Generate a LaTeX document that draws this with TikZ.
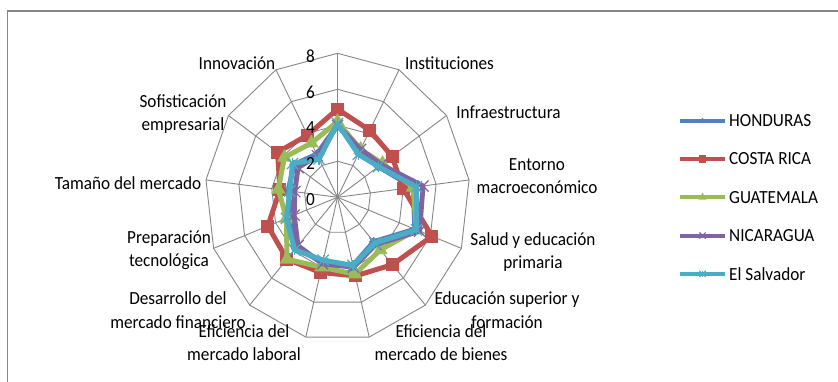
\documentclass[tikz,border=0pt]{standalone}
\usepackage{fontspec}
\setmainfont{Carlito}
\usetikzlibrary{positioning,calc,shapes.geometric,shapes.misc}

\definecolor{honblue}{RGB}{79,129,189}
\definecolor{crred}{RGB}{192,80,77}
\definecolor{guagreen}{RGB}{155,187,89}
\definecolor{nicpurple}{RGB}{128,100,162}
\definecolor{salcyan}{RGB}{75,172,198}
\definecolor{gridgray}{RGB}{134,134,134}

\tikzset{
  frame/.style={draw=gridgray, line width=1.3pt},
  grid line/.style={draw=gridgray, line width=0.9pt},
  cat/.style={align=center, inner sep=0pt, xscale=0.93,
    font=\fontsize{18.5}{23.5}\selectfont},
  hon-line/.style={draw=honblue, line width=5pt, line join=round},
  cr-line/.style={draw=crred, line width=5pt, line join=round},
  gua-line/.style={draw=guagreen, line width=5pt, line join=round},
  nic-line/.style={draw=nicpurple, line width=5pt, line join=round},
  sal-line/.style={draw=salcyan, line width=5pt, line join=round},
  hon-mark/.style={diamond, fill=honblue, inner sep=0pt, minimum size=10pt},
  cr-mark/.style={rectangle, fill=crred, inner sep=0pt, minimum size=13pt},
  gua-mark/.style={regular polygon, regular polygon sides=3, fill=guagreen,
    inner sep=0pt, minimum size=17pt},
  nic-mark/.style={cross out, draw=nicpurple, line width=1.2pt, inner sep=0pt,
    minimum size=10pt},
  sal-mark/.style={cross out, draw=salcyan, line width=1.2pt, inner sep=0pt,
    minimum size=10pt, append after command={(\tikzlastnode.north)
      edge[draw=salcyan, line width=1.2pt] (\tikzlastnode.south)}},
}

% one country: name, 13 values from the top axis, clockwise
\newcommand\radarserie[2]{%
  \foreach \v [count=\k from 0] in {#2}
    \coordinate (#1\k) at ({90-\k*360/13}:{\v*18});
  \draw[#1-line] (#10) \foreach \k in {1,...,12}{ -- (#1\k)} -- cycle;
  \foreach \k in {0,...,12}
    \node[#1-mark] (#1m\k) at (#1\k) {};
}

\begin{document}
\begin{tikzpicture}[x=1pt, y=1pt]
  \useasboundingbox (0,0) rectangle (838,382);
  \draw[frame] (7.5,0) -- (7.5,371) -- (838,371);

  % radar grid and data
  \begin{scope}[shift={(337.5,184.7)}, xscale=0.92]
    \foreach \r in {2,4,6,8}
      \draw[grid line] (90:\r*18)
        \foreach \k in {1,...,12}{ -- ({90-\k*360/13}:\r*18)} -- cycle;
    \foreach \k in {0,...,12}
      \draw[grid line] (0,0) -- ({90-\k*360/13}:144);

    \radarserie{hon}{4.0,2.9,3.0,4.6,5.0,3.3,3.9,3.7,3.8,3.0,3.0,3.2,2.7}
    \radarserie{cr}{4.9,4.2,4.0,4.0,6.1,5.0,4.5,4.3,4.6,4.5,3.5,4.4,3.9}
    \radarserie{gua}{4.2,3.0,3.3,4.6,5.1,3.9,4.4,4.0,4.6,3.3,3.6,3.9,3.4}
    \radarserie{nic}{4.0,3.0,3.2,5.2,5.3,3.5,4.0,3.8,3.6,2.8,2.6,2.9,2.6}
    \radarserie{sal}{4.1,2.7,3.0,4.8,5.1,3.4,3.9,3.6,3.9,3.3,2.9,3.3,2.4}
  \end{scope}

  % value axis
  \foreach \v in {0,2,...,8}
    \node[cat] (tick\v) at (310.5,182+18*\v) {\v};

  % categories
  \node[cat] (inst) at (449.5,318.5) {Instituciones};
  \node[cat] (infra) at (508.5,270) {Infraestructura};
  \node[cat] (entorno) at (537,206) {Entorno\\macroeconómico};
  \node[cat] (salud) at (533,130) {Salud y educación\\primaria};
  \node[cat] (edsup) at (507,72) {Educación superior y\\formación};
  \node[cat] (bienes) at (441,39.5) {Eficiencia del\\mercado de bienes};
  \node[cat] (laboral) at (244,39.5) {Eficiencia del\\mercado laboral};
  \node[cat] (financ) at (178,72) {Desarrollo del\\mercado financiero};
  \node[cat] (tecno) at (169,131.7) {Preparación\\tecnológica};
  \node[cat] (tamano) at (128,199) {Tamaño del mercado};
  \node[cat] (sofis) at (183,267.7) {Sofisticación\\empresarial};
  \node[cat] (innov) at (237,318.5) {Innovación};

  % legend
  \foreach \s/\txt [count=\i from 0] in {hon/HONDURAS, cr/COSTA RICA,
      gua/GUATEMALA, nic/NICARAGUA, sal/El Salvador}{
    \coordinate (\s-a) at (680,261.3-38.3*\i);
    \coordinate (\s-b) at (725,261.3-38.3*\i);
    \draw[\s-line, line width=4pt] (\s-a) -- (\s-b);
    \node[\s-mark, scale=0.55] (\s-lm) at ($(\s-a)!0.5!(\s-b)$) {};
    \node[cat, right=4pt of \s-b] (\s-lt) {\txt};
  }
\end{tikzpicture}
\end{document}
